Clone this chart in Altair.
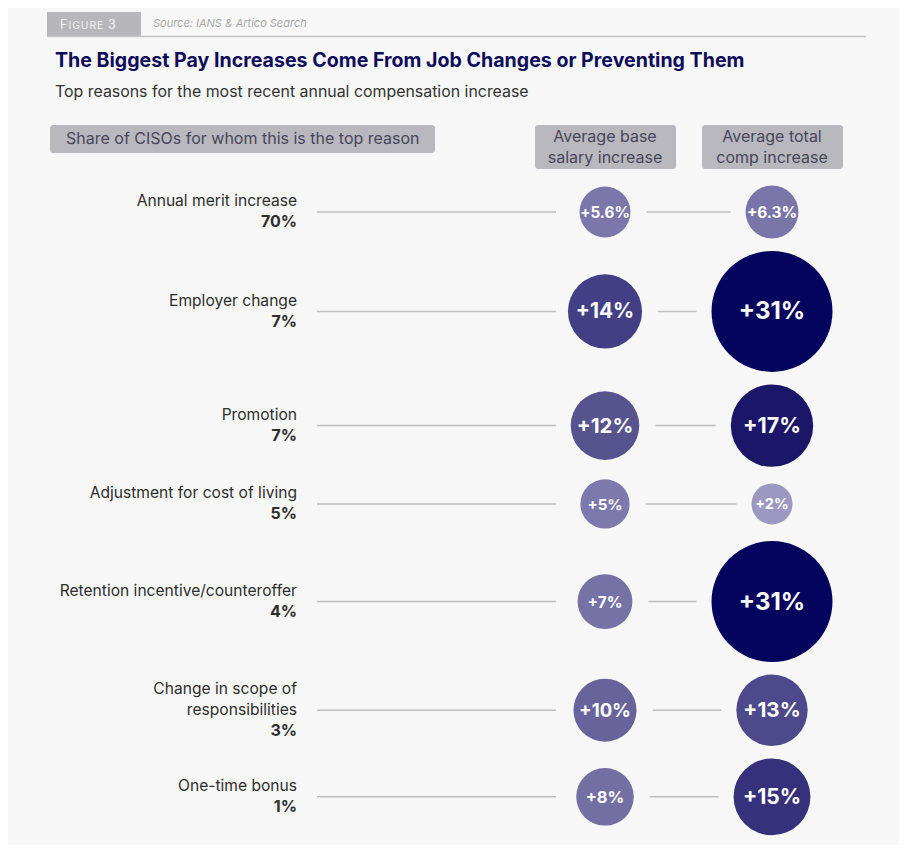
import altair as alt
import pandas as pd

# ---- data ----
reasons = [
    "Annual merit increase",
    "Employer change",
    "Promotion",
    "Adjustment for cost of living",
    "Retention incentive/counteroffer",
    "Change in scope of\nresponsibilities",
    "One-time bonus",
]
shares = [70, 7, 7, 5, 4, 3, 1]
base_increase = [5.6, 14, 12, 5, 7, 10, 8]
total_increase = [6.3, 31, 17, 2, 31, 13, 15]

df = pd.DataFrame({
    "order": list(range(len(reasons))),
    "reason": reasons,
    "share": shares,
    "base": base_increase,
    "total": total_increase,
})
df["nlines"] = [r.count("\n") + 1 for r in reasons]
df["share_lbl"] = [f"{s}%" for s in shares]

# ---- style / layout constants ----
FONT = "Inter"
BG = "#F7F7F7"
LINE = "#BEBEBE"
DMAX = 121.0          # diameter (px) of the largest bubble
VMAX = 31.0
VOFF = 12.86          # diameter grows linearly with value + offset
KPX = DMAX / (VMAX + VOFF)
GAP = 12.5
TOP = 171.3
BASE_X = 597
TOTAL_X = 764
LABEL_X = 289
LH = 21

rows = alt.Chart(df).transform_calculate(
    db=f"{KPX}*(datum.base+{VOFF})",
    dt=f"{KPX}*(datum.total+{VOFF})",
).transform_calculate(
    rowh=f"max(datum.db, datum.dt)+{GAP}"
).transform_window(
    cum="sum(rowh)", sort=[alt.SortField("order")]
).transform_calculate(
    yc=f"{TOP}+datum.cum-datum.rowh/2"
)

Y = alt.Y("yc:Q", scale=None, axis=None)

left_rule = rows.mark_rule(color=LINE, strokeWidth=1.5).encode(
    x=alt.value(309), x2=alt.value(548), y=Y
)

mid_rule = rows.transform_calculate(
    xa=f"{BASE_X}+datum.db/2+16", xb=f"{TOTAL_X}-datum.dt/2-15"
).mark_rule(color=LINE, strokeWidth=1.5).encode(
    x=alt.X("xa:Q", scale=None, axis=None), x2="xb:Q", y=Y
)

reason_txt = rows.transform_calculate(yr=f"datum.yc-{LH / 2}*datum.nlines").mark_text(
    align="right", baseline="middle", lineBreak="\n", lineHeight=LH,
    fontSize=15.6, font=FONT, color="#2E2E2E"
).encode(x=alt.value(LABEL_X), y=alt.Y("yr:Q", scale=None, axis=None), text="reason:N")

share_txt = rows.transform_calculate(ys=f"datum.yc+{LH / 2}*datum.nlines").mark_text(
    align="right", baseline="middle", fontSize=16, font=FONT, fontWeight="bold", color="#2E2E2E"
).encode(x=alt.value(LABEL_X), y=alt.Y("ys:Q", scale=None, axis=None), text="share_lbl:N")

bubbles = rows.transform_fold(["base", "total"], as_=["measure", "pct"]).transform_calculate(
    sv=f"datum.pct+{VOFF}", lbl="'+' + datum.pct + '%'"
)
XC = alt.X("measure:N", scale=alt.Scale(type="point", padding=0, domain=["base", "total"],
                                         range=[BASE_X, TOTAL_X]), axis=None)

# Vega symbol size = area of the bounding square, i.e. diameter squared
circ = bubbles.mark_circle(opacity=1).encode(
    x=XC, y=Y,
    size=alt.Size("sv:Q", scale=alt.Scale(type="pow", exponent=2, domain=[0, VMAX + VOFF],
                                          range=[0, DMAX ** 2]), legend=None),
    color=alt.Color("pct:Q", scale=alt.Scale(
        domain=[2, 5, 8, 10, 12, 14, 17, 31],
        range=["#9C98C2", "#7D79AC", "#736FA3", "#68649B", "#57538F", "#443F85", "#1B1668", "#04045E"]),
        legend=None),
)

ctext = bubbles.mark_text(color="white", fontWeight="bold", font=FONT, baseline="middle", dy=1).encode(
    x=XC, y=Y, text="lbl:N",
    size=alt.Size("pct:Q", scale=alt.Scale(domain=[2, 7, 12, 31], range=[14.5, 15.5, 20.5, 24]),
                  legend=None),
)

# ---- header furniture ----
one = alt.Data(values=[{"k": 1}])

def rect(x, x2, y, y2, color, r=0):
    return alt.Chart(one).mark_rect(color=color, cornerRadius=r).encode(
        x=alt.value(x), x2=alt.value(x2), y=alt.value(y), y2=alt.value(y2))

def txt(text, x, y, **kw):
    return alt.Chart(one).mark_text(text=text, font=FONT, **kw).encode(
        x=alt.value(x), y=alt.value(y))

HS = "\u200a"
tab = rect(39, 133, 4, 28, "#B6B6BB")
rule_top = alt.Chart(one).mark_rule(color="#C4C4C4", strokeWidth=1.5).encode(
    x=alt.value(39), x2=alt.value(858), y=alt.value(28.5))
fig_f = txt("F", 52, 21, fontSize=12.5, color="#F4F4F4", align="left", baseline="alphabetic")
fig_mid = txt(HS.join("IGURE"), 60.5, 21, fontSize=10.3, color="#F4F4F4", align="left",
              baseline="alphabetic")
fig_3 = txt("3", 100, 21, fontSize=12.5, color="#F4F4F4", align="left", baseline="alphabetic")
source = txt("Source: IANS & Artico Search", 145, 18.5, fontSize=11, fontStyle="italic",
             color="#A8A8A8", align="left", baseline="alphabetic")
title = txt("The Biggest Pay Increases Come From Job Changes or Preventing Them", 47, 58.7,
            fontSize=19.6, fontWeight="bold", color="#0D0C5B", align="left", baseline="alphabetic")
subtitle = txt("Top reasons for the most recent annual compensation increase", 47, 88.7,
               fontSize=15.9, color="#333333", align="left", baseline="alphabetic")

hdr_box = rect(42, 427, 117, 145, "#B9B8BF", 3)
hdr_txt = txt("Share of CISOs for whom this is the top reason", 58, 131, fontSize=16,
              color="#47465A", align="left", baseline="middle")
col1_box = rect(527, 668, 117, 161, "#B9B8BF", 3)
col1_txt = txt("Average base\nsalary increase", BASE_X, 128.7, fontSize=16, lineBreak="\n",
               lineHeight=LH, color="#47465A", align="center", baseline="middle")
col2_box = rect(694, 835, 117, 161, "#B9B8BF", 3)
col2_txt = txt("Average total\ncomp increase", TOTAL_X, 128.7, fontSize=16, lineBreak="\n",
               lineHeight=LH, color="#47465A", align="center", baseline="middle")

chart = alt.layer(
    tab, rule_top, fig_f, fig_mid, fig_3, source, title, subtitle,
    hdr_box, hdr_txt, col1_box, col1_txt, col2_box, col2_txt,
    left_rule, mid_rule, reason_txt, share_txt, circ, ctext,
).resolve_scale(
    x="independent", y="independent", size="independent", color="independent"
).properties(
    width=891, height=837, background=BG, padding=0,
    autosize=alt.AutoSizeParams(type="none"),
).configure_view(stroke=None)

chart.save("out.html", embed_options={"renderer": "svg", "actions": False})
